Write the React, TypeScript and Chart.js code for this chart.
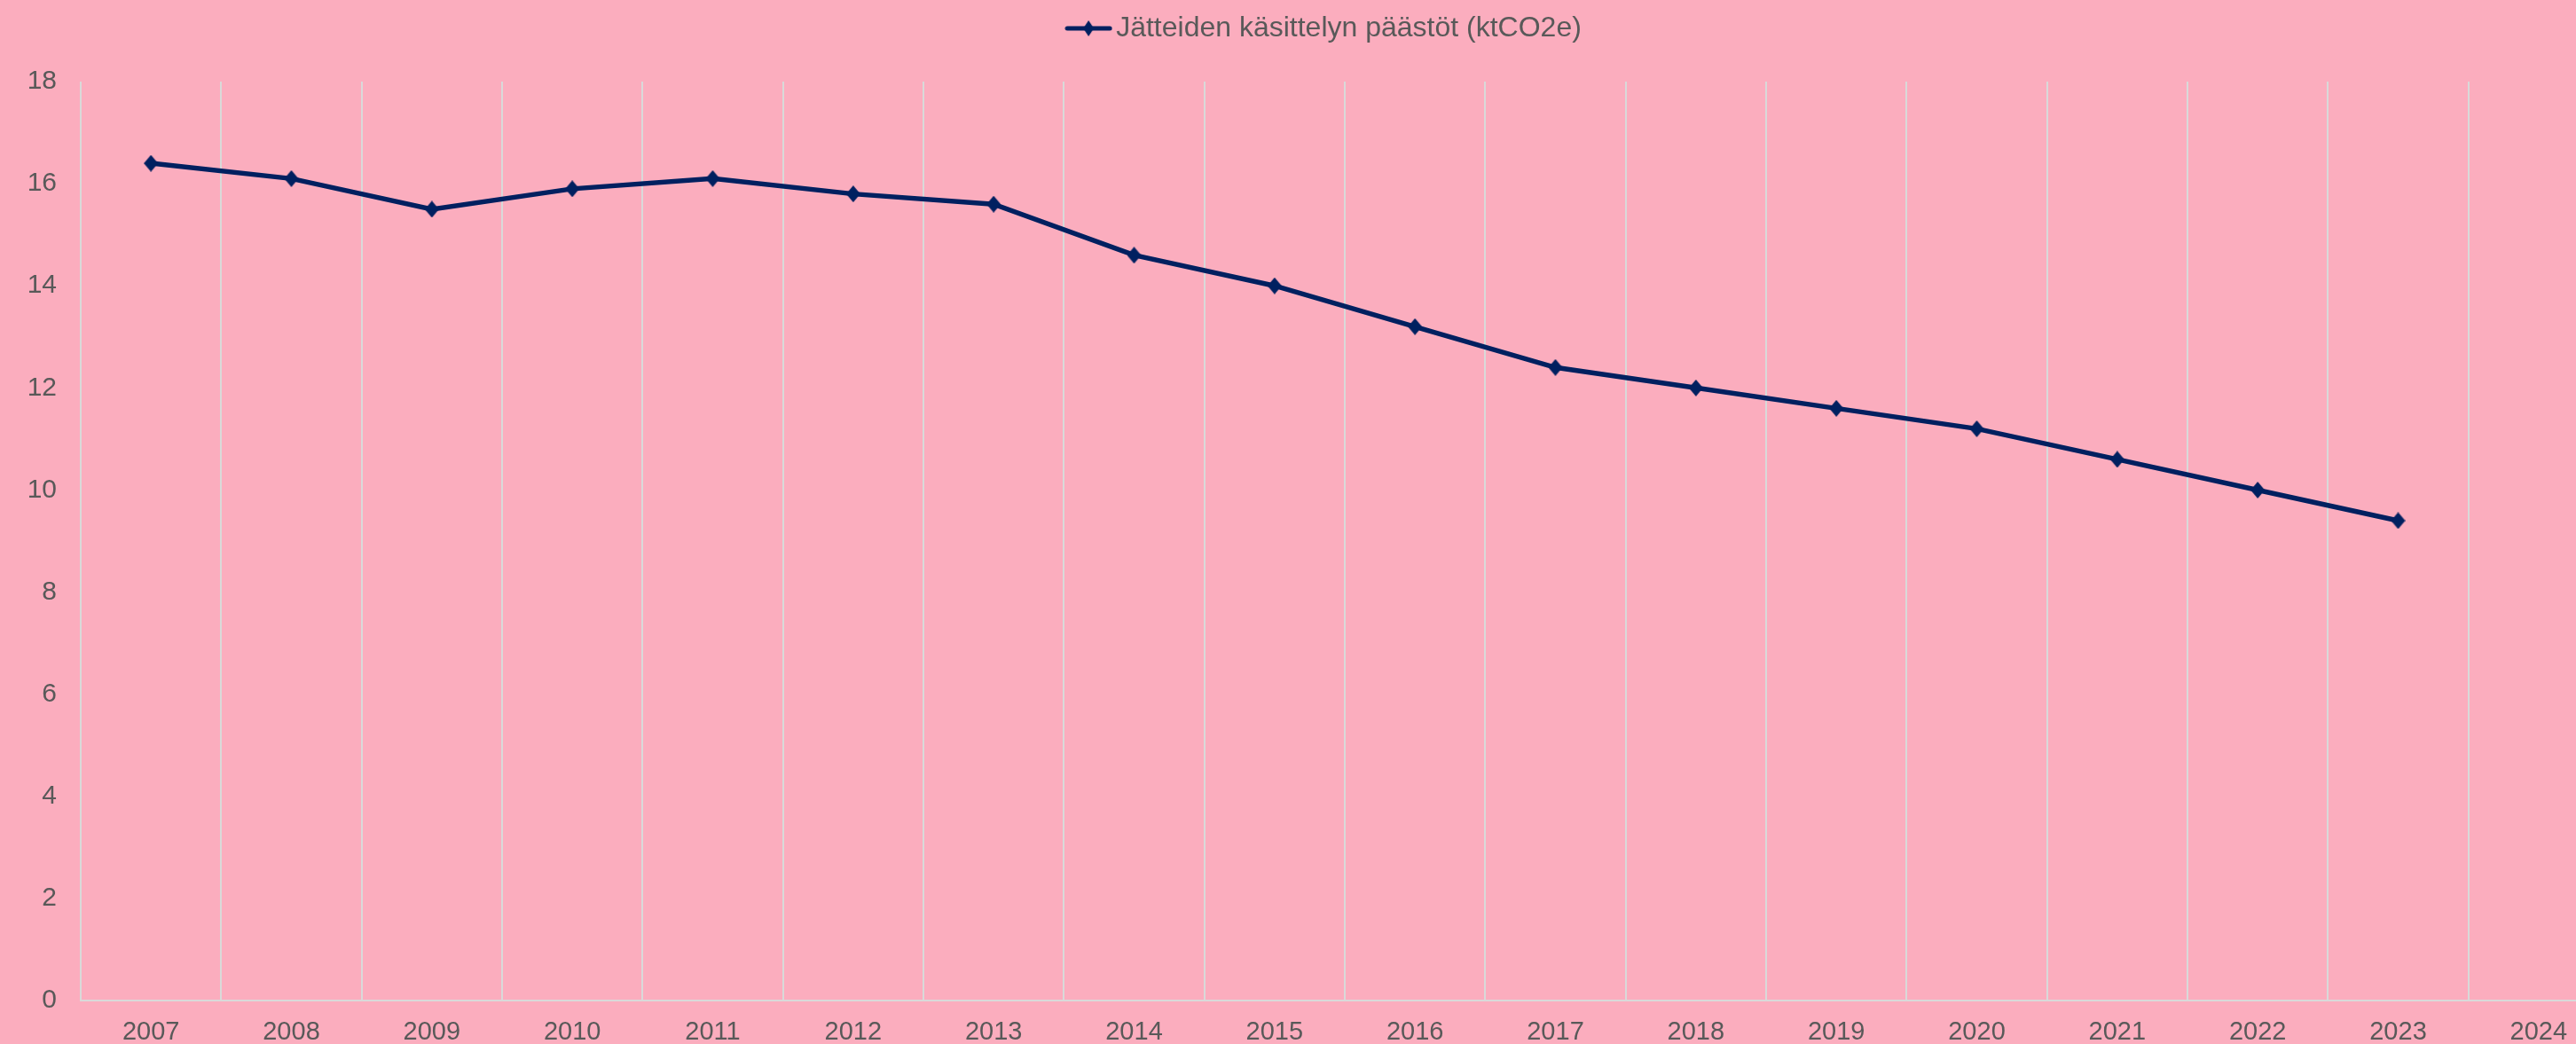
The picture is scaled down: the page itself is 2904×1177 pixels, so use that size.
import React, { useEffect, useRef } from "react";
import { Chart, registerables } from "chart.js";

Chart.register(...registerables);

const years = ["2007","2008","2009","2010","2011","2012","2013","2014","2015","2016","2017","2018","2019","2020","2021","2022","2023","2024"];
const emissions = [16.4, 16.1, 15.5, 15.9, 16.1, 15.8, 15.6, 14.6, 14.0, 13.2, 12.4, 12.0, 11.6, 11.2, 10.6, 10.0, 9.4, null];
const seriesLabel = "Jätteiden käsittelyn päästöt (ktCO2e)";
const yTicks = [0, 2, 4, 6, 8, 10, 12, 14, 16, 18];

const NAVY = "#002060";
const PINK = "#FBADBE";
const GRID = "#d9d9d9";
const TEXT = "#595959";
const FONT = "'Liberation Sans', Arial, sans-serif";

function makeDiamond(w: number, h: number): HTMLCanvasElement {
  const c = document.createElement("canvas");
  c.width = w;
  c.height = h;
  const ctx = c.getContext("2d")!;
  ctx.fillStyle = NAVY;
  ctx.beginPath();
  ctx.moveTo(w / 2, 0);
  ctx.lineTo(w, h / 2);
  ctx.lineTo(w / 2, h);
  ctx.lineTo(0, h / 2);
  ctx.closePath();
  ctx.fill();
  return c;
}

function makeLegendMarker(): HTMLCanvasElement {
  const c = document.createElement("canvas");
  c.width = 54;
  c.height = 20;
  const ctx = c.getContext("2d")!;
  ctx.strokeStyle = NAVY;
  ctx.lineWidth = 5;
  ctx.lineCap = "round";
  ctx.beginPath();
  ctx.moveTo(3, 10);
  ctx.lineTo(51, 10);
  ctx.stroke();
  ctx.fillStyle = NAVY;
  ctx.beginPath();
  ctx.moveTo(27, 1);
  ctx.lineTo(33, 10);
  ctx.lineTo(27, 19);
  ctx.lineTo(21, 10);
  ctx.closePath();
  ctx.fill();
  return c;
}

const legendAdjust = {
  id: "legendAdjust",
  beforeInit(chart: any) {
    const legend = chart.legend;
    if (!legend) return;
    const origFit = legend.fit;
    legend.fit = function () {
      origFit.call(this);
      this.height += 34;
    };
  },
  afterLayout(chart: any) {
    const legend = chart.legend;
    if (!legend) return;
    legend.left += 27;
    legend.right += 27;
  },
};

export default function App() {
  const ref = useRef<HTMLCanvasElement | null>(null);
  useEffect(() => {
    if (!ref.current) return;
    const marker = makeLegendMarker();
    const pointImg = makeDiamond(16, 19);
    const chart = new Chart(ref.current, {
      type: "line",
      data: {
        labels: years,
        datasets: [
          {
            label: seriesLabel,
            data: emissions,
            borderColor: NAVY,
            backgroundColor: NAVY,
            borderWidth: 5.5,
            pointStyle: pointImg,
            pointRadius: 9,
            tension: 0,
            spanGaps: false,
          },
        ],
      },
      options: {
        responsive: false,
        animation: false,
        layout: { autoPadding: false, padding: { left: 0, right: 3, top: 0, bottom: 0 } },
        plugins: {
          tooltip: { enabled: false },
          legend: {
            position: "top",
            labels: {
              usePointStyle: true,
              pointStyleWidth: 30,
              padding: 16,
              color: TEXT,
              font: { family: FONT, size: 32 },
              generateLabels: (ch: any) => {
                const items = (Chart.defaults.plugins.legend.labels as any).generateLabels(ch);
                items.forEach((it: any) => {
                  it.pointStyle = marker;
                  it.fontColor = TEXT;
                });
                return items;
              },
            },
          },
        },
        scales: {
          x: {
            type: "category",
            offset: true,
            grid: {
              display: true,
              offset: true,
              color: GRID,
              lineWidth: 2,
              drawTicks: false,
            },
            border: { display: true, color: GRID, width: 2 },
            ticks: {
              color: TEXT,
              font: { family: FONT, size: 29 },
              padding: 19,
              maxRotation: 0,
              autoSkip: false,
            },
            afterFit: (s: any) => {
              s.height = 49;
              s.paddingLeft = 0;
              s.paddingRight = 0;
            },
          },
          y: {
            min: 0,
            max: 18,
            grid: { display: false, drawTicks: false },
            border: { display: false },
            afterBuildTicks: (s: any) => {
              s.ticks = yTicks.map((v) => ({ value: v }));
            },
            ticks: {
              color: TEXT,
              font: { family: FONT, size: 30 },
              padding: 27,
            },
            afterFit: (s: any) => {
              s.width = 91;
            },
          },
        },
      },
      plugins: [legendAdjust],
    } as any);
    return () => chart.destroy();
  }, []);

  return (
    <div
      style={{
        position: "fixed",
        left: 0,
        top: 0,
        width: 2904,
        height: 1177,
        overflow: "hidden",
        background: PINK,
      }}
    >
      <canvas ref={ref} width={2944} height={1177} style={{ display: "block", width: 2944, height: 1177 }} />
    </div>
  );
}
